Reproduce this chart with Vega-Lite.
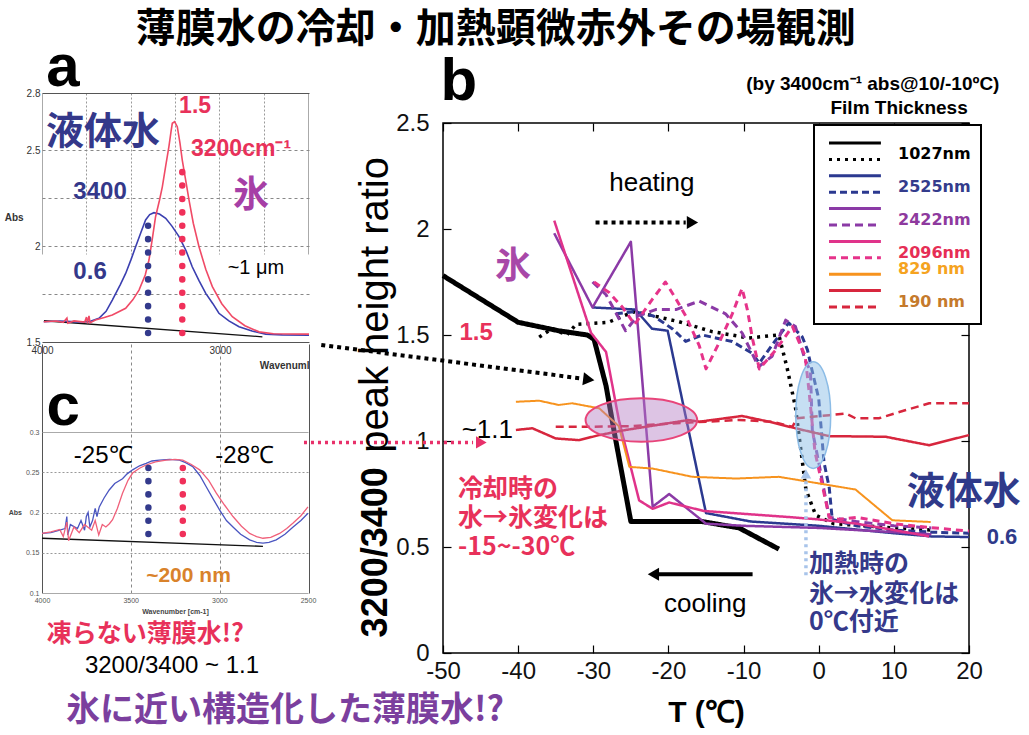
{
  "$schema": "https://vega.github.io/schema/vega-lite/v6.json",
  "background": "white",
  "padding": {"left": 4, "top": 9, "right": 0, "bottom": 0},
  "title": {"text": "薄膜水の冷却・加熱顕微赤外その場観測", "font": "Noto Sans CJK JP", "fontSize": 40, "fontWeight": "bold", "color": "#000", "anchor": "middle", "frame": "bounds", "offset": -12, "dx": -17},
  "bounds": "flush",
  "spacing": 134,
  "resolve": {"scale": {"color": "independent", "strokeDash": "independent"}},
  "datasets": {
    "a_liq": [
      {"wn": 3990, "abs": 1.606}, {"wn": 3900, "abs": 1.61}, {"wn": 3800, "abs": 1.605}, {"wn": 3736, "abs": 1.606}, {"wn": 3680, "abs": 1.624}, {"wn": 3640, "abs": 1.66}, {"wn": 3605, "abs": 1.719}, {"wn": 3560, "abs": 1.8}, {"wn": 3530, "abs": 1.858}, {"wn": 3500, "abs": 1.93}, {"wn": 3474, "abs": 1.997}, {"wn": 3445, "abs": 2.07}, {"wn": 3418, "abs": 2.137}, {"wn": 3395, "abs": 2.165}, {"wn": 3371, "abs": 2.175}, {"wn": 3340, "abs": 2.168}, {"wn": 3305, "abs": 2.146}, {"wn": 3270, "abs": 2.105}, {"wn": 3230, "abs": 2.05}, {"wn": 3190, "abs": 1.975}, {"wn": 3156, "abs": 1.893}, {"wn": 3118, "abs": 1.82}, {"wn": 3080, "abs": 1.754}, {"wn": 3040, "abs": 1.7}, {"wn": 3006, "abs": 1.65}, {"wn": 2950, "abs": 1.61}, {"wn": 2893, "abs": 1.58}, {"wn": 2820, "abs": 1.557}, {"wn": 2743, "abs": 1.541}, {"wn": 2650, "abs": 1.537}, {"wn": 2500, "abs": 1.536}
    ],
    "a_ice": [
      {"wn": 3990, "abs": 1.606}, {"wn": 3920, "abs": 1.61}, {"wn": 3880, "abs": 1.603}, {"wn": 3860, "abs": 1.625}, {"wn": 3855, "abs": 1.598}, {"wn": 3820, "abs": 1.61}, {"wn": 3760, "abs": 1.604}, {"wn": 3750, "abs": 1.63}, {"wn": 3745, "abs": 1.598}, {"wn": 3736, "abs": 1.636}, {"wn": 3730, "abs": 1.6}, {"wn": 3700, "abs": 1.615}, {"wn": 3650, "abs": 1.628}, {"wn": 3605, "abs": 1.641}, {"wn": 3530, "abs": 1.676}, {"wn": 3490, "abs": 1.72}, {"wn": 3455, "abs": 1.771}, {"wn": 3420, "abs": 1.85}, {"wn": 3399, "abs": 1.928}, {"wn": 3380, "abs": 2.04}, {"wn": 3362, "abs": 2.154}, {"wn": 3340, "abs": 2.24}, {"wn": 3324, "abs": 2.31}, {"wn": 3305, "abs": 2.42}, {"wn": 3287, "abs": 2.52}, {"wn": 3275, "abs": 2.6}, {"wn": 3268, "abs": 2.642}, {"wn": 3255, "abs": 2.65}, {"wn": 3240, "abs": 2.624}, {"wn": 3225, "abs": 2.54}, {"wn": 3212, "abs": 2.45}, {"wn": 3190, "abs": 2.33}, {"wn": 3174, "abs": 2.241}, {"wn": 3150, "abs": 2.12}, {"wn": 3118, "abs": 1.997}, {"wn": 3080, "abs": 1.88}, {"wn": 3043, "abs": 1.789}, {"wn": 2990, "abs": 1.7}, {"wn": 2931, "abs": 1.632}, {"wn": 2860, "abs": 1.585}, {"wn": 2781, "abs": 1.553}, {"wn": 2700, "abs": 1.543}, {"wn": 2500, "abs": 1.541}
    ],
    "a_base": [{"wn": 3989, "abs": 1.611}, {"wn": 2762, "abs": 1.527}],
    "c_m25": [
      {"wn": 4000, "abs": 0.174}, {"wn": 3950, "abs": 0.175}, {"wn": 3900, "abs": 0.178}, {"wn": 3870, "abs": 0.18}, {"wn": 3860, "abs": 0.195}, {"wn": 3855, "abs": 0.172}, {"wn": 3840, "abs": 0.185}, {"wn": 3800, "abs": 0.18}, {"wn": 3780, "abs": 0.19}, {"wn": 3760, "abs": 0.178}, {"wn": 3750, "abs": 0.195}, {"wn": 3740, "abs": 0.2}, {"wn": 3730, "abs": 0.182}, {"wn": 3715, "abs": 0.19}, {"wn": 3700, "abs": 0.205}, {"wn": 3690, "abs": 0.195}, {"wn": 3677, "abs": 0.207}, {"wn": 3650, "abs": 0.218}, {"wn": 3621, "abs": 0.228}, {"wn": 3590, "abs": 0.236}, {"wn": 3546, "abs": 0.242}, {"wn": 3520, "abs": 0.248}, {"wn": 3489, "abs": 0.253}, {"wn": 3450, "abs": 0.258}, {"wn": 3413, "abs": 0.261}, {"wn": 3380, "abs": 0.264}, {"wn": 3338, "abs": 0.265}, {"wn": 3280, "abs": 0.266}, {"wn": 3225, "abs": 0.265}, {"wn": 3190, "abs": 0.262}, {"wn": 3150, "abs": 0.257}, {"wn": 3110, "abs": 0.246}, {"wn": 3074, "abs": 0.232}, {"wn": 3035, "abs": 0.217}, {"wn": 2998, "abs": 0.203}, {"wn": 2960, "abs": 0.19}, {"wn": 2923, "abs": 0.182}, {"wn": 2880, "abs": 0.173}, {"wn": 2829, "abs": 0.166}, {"wn": 2790, "abs": 0.163}, {"wn": 2754, "abs": 0.162}, {"wn": 2720, "abs": 0.163}, {"wn": 2679, "abs": 0.166}, {"wn": 2630, "abs": 0.173}, {"wn": 2584, "abs": 0.182}, {"wn": 2540, "abs": 0.19}, {"wn": 2500, "abs": 0.199}
    ],
    "c_m28": [
      {"wn": 4000, "abs": 0.174}, {"wn": 3950, "abs": 0.176}, {"wn": 3900, "abs": 0.179}, {"wn": 3880, "abs": 0.17}, {"wn": 3860, "abs": 0.188}, {"wn": 3850, "abs": 0.165}, {"wn": 3820, "abs": 0.182}, {"wn": 3790, "abs": 0.175}, {"wn": 3760, "abs": 0.185}, {"wn": 3720, "abs": 0.178}, {"wn": 3700, "abs": 0.19}, {"wn": 3680, "abs": 0.172}, {"wn": 3660, "abs": 0.185}, {"wn": 3640, "abs": 0.182}, {"wn": 3620, "abs": 0.186}, {"wn": 3602, "abs": 0.191}, {"wn": 3575, "abs": 0.205}, {"wn": 3546, "abs": 0.224}, {"wn": 3515, "abs": 0.24}, {"wn": 3489, "abs": 0.249}, {"wn": 3450, "abs": 0.255}, {"wn": 3413, "abs": 0.259}, {"wn": 3360, "abs": 0.263}, {"wn": 3300, "abs": 0.265}, {"wn": 3250, "abs": 0.266}, {"wn": 3206, "abs": 0.265}, {"wn": 3160, "abs": 0.26}, {"wn": 3111, "abs": 0.253}, {"wn": 3060, "abs": 0.24}, {"wn": 3017, "abs": 0.224}, {"wn": 2970, "abs": 0.209}, {"wn": 2923, "abs": 0.195}, {"wn": 2875, "abs": 0.183}, {"wn": 2829, "abs": 0.174}, {"wn": 2790, "abs": 0.17}, {"wn": 2754, "abs": 0.168}, {"wn": 2710, "abs": 0.169}, {"wn": 2660, "abs": 0.174}, {"wn": 2620, "abs": 0.18}, {"wn": 2584, "abs": 0.187}, {"wn": 2540, "abs": 0.196}, {"wn": 2500, "abs": 0.207}
    ],
    "c_base": [{"wn": 4000, "abs": 0.168}, {"wn": 2754, "abs": 0.158}],
    "b_series": [
      {"s": "1027nm cooling", "T": -50, "r": 1.78}, {"s": "1027nm cooling", "T": -40, "r": 1.56}, {"s": "1027nm cooling", "T": -34.6, "r": 1.52}, {"s": "1027nm cooling", "T": -30.8, "r": 1.5}, {"s": "1027nm cooling", "T": -29.9, "r": 1.48}, {"s": "1027nm cooling", "T": -28.3, "r": 1.26}, {"s": "1027nm cooling", "T": -27.2, "r": 1.04}, {"s": "1027nm cooling", "T": -25, "r": 0.62}, {"s": "1027nm cooling", "T": -15.5, "r": 0.62}, {"s": "1027nm cooling", "T": -10.6, "r": 0.59}, {"s": "1027nm cooling", "T": -5.3, "r": 0.49},
      {"s": "1027nm heating", "T": -37.2, "r": 1.49}, {"s": "1027nm heating", "T": -35.5, "r": 1.53}, {"s": "1027nm heating", "T": -33.5, "r": 1.5}, {"s": "1027nm heating", "T": -32.3, "r": 1.55}, {"s": "1027nm heating", "T": -28, "r": 1.56}, {"s": "1027nm heating", "T": -24.6, "r": 1.61}, {"s": "1027nm heating", "T": -22.6, "r": 1.595}, {"s": "1027nm heating", "T": -18.6, "r": 1.563}, {"s": "1027nm heating", "T": -14.2, "r": 1.516}, {"s": "1027nm heating", "T": -9.3, "r": 1.486}, {"s": "1027nm heating", "T": -5.3, "r": 1.5}, {"s": "1027nm heating", "T": -4.2, "r": 1.344}, {"s": "1027nm heating", "T": -3.1, "r": 1.16}, {"s": "1027nm heating", "T": -1.7, "r": 0.77}, {"s": "1027nm heating", "T": -0.4, "r": 0.65}, {"s": "1027nm heating", "T": 2, "r": 0.61}, {"s": "1027nm heating", "T": 10, "r": 0.59}, {"s": "1027nm heating", "T": 15, "r": 0.58},
      {"s": "2525nm cooling", "T": -30.1, "r": 1.63}, {"s": "2525nm cooling", "T": -24.4, "r": 1.62}, {"s": "2525nm cooling", "T": -22.2, "r": 1.53}, {"s": "2525nm cooling", "T": -20.1, "r": 1.52}, {"s": "2525nm cooling", "T": -15, "r": 0.66}, {"s": "2525nm cooling", "T": -9, "r": 0.62}, {"s": "2525nm cooling", "T": 0, "r": 0.6}, {"s": "2525nm cooling", "T": 10, "r": 0.565}, {"s": "2525nm cooling", "T": 15, "r": 0.55}, {"s": "2525nm cooling", "T": 20, "r": 0.547},
      {"s": "2525nm heating", "T": -27, "r": 1.6}, {"s": "2525nm heating", "T": -24.6, "r": 1.61}, {"s": "2525nm heating", "T": -22, "r": 1.59}, {"s": "2525nm heating", "T": -19.5, "r": 1.53}, {"s": "2525nm heating", "T": -17.7, "r": 1.47}, {"s": "2525nm heating", "T": -15.5, "r": 1.5}, {"s": "2525nm heating", "T": -13.7, "r": 1.486}, {"s": "2525nm heating", "T": -11.5, "r": 1.469}, {"s": "2525nm heating", "T": -8.9, "r": 1.415}, {"s": "2525nm heating", "T": -7.9, "r": 1.368}, {"s": "2525nm heating", "T": -5.7, "r": 1.477}, {"s": "2525nm heating", "T": -4, "r": 1.557}, {"s": "2525nm heating", "T": -2.2, "r": 1.492}, {"s": "2525nm heating", "T": -1.5, "r": 1.43}, {"s": "2525nm heating", "T": -0.9, "r": 1.335}, {"s": "2525nm heating", "T": 0, "r": 1.2}, {"s": "2525nm heating", "T": 0.7, "r": 0.9}, {"s": "2525nm heating", "T": 1.4, "r": 0.78}, {"s": "2525nm heating", "T": 1.8, "r": 0.63}, {"s": "2525nm heating", "T": 5, "r": 0.6}, {"s": "2525nm heating", "T": 10, "r": 0.58}, {"s": "2525nm heating", "T": 15, "r": 0.57}, {"s": "2525nm heating", "T": 20, "r": 0.565},
      {"s": "2422nm cooling", "T": -35.2, "r": 1.98}, {"s": "2422nm cooling", "T": -30.1, "r": 1.63}, {"s": "2422nm cooling", "T": -25, "r": 1.94}, {"s": "2422nm cooling", "T": -22.1, "r": 0.69}, {"s": "2422nm cooling", "T": -19.9, "r": 0.75}, {"s": "2422nm cooling", "T": -15, "r": 0.61}, {"s": "2422nm cooling", "T": -10, "r": 0.6}, {"s": "2422nm cooling", "T": 0, "r": 0.59}, {"s": "2422nm cooling", "T": 10, "r": 0.57}, {"s": "2422nm cooling", "T": 15, "r": 0.56},
      {"s": "2422nm heating", "T": -30.1, "r": 1.75}, {"s": "2422nm heating", "T": -28.3, "r": 1.69}, {"s": "2422nm heating", "T": -25.7, "r": 1.52}, {"s": "2422nm heating", "T": -24.1, "r": 1.59}, {"s": "2422nm heating", "T": -21.7, "r": 1.62}, {"s": "2422nm heating", "T": -19, "r": 1.62}, {"s": "2422nm heating", "T": -15.9, "r": 1.66}, {"s": "2422nm heating", "T": -12.4, "r": 1.6}, {"s": "2422nm heating", "T": -10.2, "r": 1.51}, {"s": "2422nm heating", "T": -8, "r": 1.35}, {"s": "2422nm heating", "T": -6.2, "r": 1.4}, {"s": "2422nm heating", "T": -4.4, "r": 1.57}, {"s": "2422nm heating", "T": -3.1, "r": 1.54}, {"s": "2422nm heating", "T": -1.8, "r": 1.38}, {"s": "2422nm heating", "T": -1.1, "r": 1.33}, {"s": "2422nm heating", "T": -0.85, "r": 1.05}, {"s": "2422nm heating", "T": 0, "r": 0.9}, {"s": "2422nm heating", "T": 1.4, "r": 0.64}, {"s": "2422nm heating", "T": 5, "r": 0.62}, {"s": "2422nm heating", "T": 10, "r": 0.6}, {"s": "2422nm heating", "T": 15, "r": 0.59},
      {"s": "2096nm cooling", "T": -35.2, "r": 2.04}, {"s": "2096nm cooling", "T": -30.3, "r": 1.51}, {"s": "2096nm cooling", "T": -28.3, "r": 1.42}, {"s": "2096nm cooling", "T": -26.6, "r": 1.1}, {"s": "2096nm cooling", "T": -23.9, "r": 0.72}, {"s": "2096nm cooling", "T": -22.1, "r": 0.68}, {"s": "2096nm cooling", "T": -19.9, "r": 0.71}, {"s": "2096nm cooling", "T": -15.3, "r": 0.67}, {"s": "2096nm cooling", "T": -3.5, "r": 0.64}, {"s": "2096nm cooling", "T": 0, "r": 0.63}, {"s": "2096nm cooling", "T": 5, "r": 0.61}, {"s": "2096nm cooling", "T": 10, "r": 0.58}, {"s": "2096nm cooling", "T": 14.7, "r": 0.55},
      {"s": "2096nm heating", "T": -29.9, "r": 1.75}, {"s": "2096nm heating", "T": -27.9, "r": 1.7}, {"s": "2096nm heating", "T": -26.1, "r": 1.63}, {"s": "2096nm heating", "T": -24.5, "r": 1.55}, {"s": "2096nm heating", "T": -22.1, "r": 1.67}, {"s": "2096nm heating", "T": -20.4, "r": 1.75}, {"s": "2096nm heating", "T": -19, "r": 1.67}, {"s": "2096nm heating", "T": -17.7, "r": 1.59}, {"s": "2096nm heating", "T": -15.9, "r": 1.45}, {"s": "2096nm heating", "T": -15, "r": 1.34}, {"s": "2096nm heating", "T": -13.3, "r": 1.46}, {"s": "2096nm heating", "T": -11.5, "r": 1.6}, {"s": "2096nm heating", "T": -10.2, "r": 1.72}, {"s": "2096nm heating", "T": -9.5, "r": 1.62}, {"s": "2096nm heating", "T": -8.8, "r": 1.48}, {"s": "2096nm heating", "T": -7.9, "r": 1.34}, {"s": "2096nm heating", "T": -5.7, "r": 1.43}, {"s": "2096nm heating", "T": -3.5, "r": 1.54}, {"s": "2096nm heating", "T": -1.8, "r": 1.4}, {"s": "2096nm heating", "T": -1.3, "r": 1.24}, {"s": "2096nm heating", "T": -0.5, "r": 0.95}, {"s": "2096nm heating", "T": 1.4, "r": 0.64}, {"s": "2096nm heating", "T": 2.7, "r": 0.63}, {"s": "2096nm heating", "T": 5, "r": 0.64}, {"s": "2096nm heating", "T": 10, "r": 0.61}, {"s": "2096nm heating", "T": 13.8, "r": 0.595}, {"s": "2096nm heating", "T": 20, "r": 0.575},
      {"s": "829 nm cooling", "T": -40.3, "r": 1.185}, {"s": "829 nm cooling", "T": -37.2, "r": 1.19}, {"s": "829 nm cooling", "T": -34.6, "r": 1.17}, {"s": "829 nm cooling", "T": -32.8, "r": 1.178}, {"s": "829 nm cooling", "T": -29.2, "r": 1.154}, {"s": "829 nm cooling", "T": -26.6, "r": 1.07}, {"s": "829 nm cooling", "T": -25.2, "r": 0.878}, {"s": "829 nm cooling", "T": -22.1, "r": 0.87}, {"s": "829 nm cooling", "T": -16.8, "r": 0.831}, {"s": "829 nm cooling", "T": -11, "r": 0.823}, {"s": "829 nm cooling", "T": -5.3, "r": 0.831}, {"s": "829 nm cooling", "T": 0, "r": 0.8}, {"s": "829 nm cooling", "T": 4.9, "r": 0.771}, {"s": "829 nm cooling", "T": 9.8, "r": 0.626}, {"s": "829 nm cooling", "T": 14.9, "r": 0.618},
      {"s": "190 nm cooling", "T": -40.3, "r": 1.052}, {"s": "190 nm cooling", "T": -38.1, "r": 1.06}, {"s": "190 nm cooling", "T": -35, "r": 1.012}, {"s": "190 nm cooling", "T": -31.9, "r": 1.004}, {"s": "190 nm cooling", "T": -29.2, "r": 1.028}, {"s": "190 nm cooling", "T": -25.7, "r": 1.052}, {"s": "190 nm cooling", "T": -17.3, "r": 1.099}, {"s": "190 nm cooling", "T": -15.9, "r": 1.091}, {"s": "190 nm cooling", "T": -10.2, "r": 1.118}, {"s": "190 nm cooling", "T": -6.6, "r": 1.091}, {"s": "190 nm cooling", "T": -3.1, "r": 1.06}, {"s": "190 nm cooling", "T": 1.4, "r": 1.023}, {"s": "190 nm cooling", "T": 8.9, "r": 1.02}, {"s": "190 nm cooling", "T": 14.7, "r": 0.98}, {"s": "190 nm cooling", "T": 20, "r": 1.028},
      {"s": "190 nm heating", "T": -35, "r": 1.067}, {"s": "190 nm heating", "T": -31, "r": 1.067}, {"s": "190 nm heating", "T": -25, "r": 1.07}, {"s": "190 nm heating", "T": -19.5, "r": 1.083}, {"s": "190 nm heating", "T": -15, "r": 1.091}, {"s": "190 nm heating", "T": -10.6, "r": 1.099}, {"s": "190 nm heating", "T": -6.2, "r": 1.091}, {"s": "190 nm heating", "T": -3.5, "r": 1.067}, {"s": "190 nm heating", "T": -2.9, "r": 1.107}, {"s": "190 nm heating", "T": 1.4, "r": 1.122}, {"s": "190 nm heating", "T": 3.6, "r": 1.13}, {"s": "190 nm heating", "T": 4.9, "r": 1.107}, {"s": "190 nm heating", "T": 8, "r": 1.107}, {"s": "190 nm heating", "T": 11.6, "r": 1.146}, {"s": "190 nm heating", "T": 14.7, "r": 1.178}, {"s": "190 nm heating", "T": 20, "r": 1.178}
    ]
  },
  "hconcat": [
    {
      "width": 267, "height": 500,
      "view": {"stroke": null},
      "resolve": {"scale": {"x": "independent", "y": "independent"}, "axis": {"x": "independent", "y": "independent"}},
      "layer": [
        {
          "encoding": {
            "x": {"field": "wn", "type": "quantitative", "scale": {"domain": [4000, 2500], "range": [0, 267], "nice": false, "zero": false},
                  "axis": {"orient": "bottom", "offset": -251, "values": [4000, 3500, 3000, 2500], "labelExpr": "datum.value == 4000 || datum.value == 3000 ? '' + datum.value : ''", "grid": true,
                           "gridDash": {"condition": {"test": "datum.value == 4000 || datum.value == 2500", "value": []}, "value": [3, 3]},
                           "gridColor": {"condition": {"test": "datum.value == 4000 || datum.value == 2500", "value": "#555"}, "value": "#888"},
                           "ticks": false, "domain": false, "labelFontSize": 10, "labelColor": "#333", "labelPadding": 3, "labelFlush": false, "title": "Wavenuml", "titleAnchor": "end", "titleFontSize": 10, "titleFontWeight": "bold", "titleColor": "#333", "titlePadding": 5}},
            "y": {"field": "abs", "type": "quantitative", "scale": {"domain": [1.5, 2.8], "range": [249, 0], "nice": false, "zero": false},
                  "axis": {"orient": "left", "values": [1.5, 1.75, 2, 2.25, 2.5, 2.8], "labelExpr": "datum.value == 1.75 || datum.value == 2.25 ? '' : '' + datum.value", "grid": true,
                           "gridDash": {"condition": {"test": "datum.value == 1.5 || datum.value == 2.8", "value": []}, "value": [3, 3]},
                           "gridColor": {"condition": {"test": "datum.value == 1.5 || datum.value == 2.8", "value": "#555"}, "value": "#888"},
                           "ticks": false, "domain": false, "labelFontSize": 10, "labelColor": "#333", "labelPadding": 2, "labelFlush": false, "title": "Abs", "titleAngle": 0, "titleAlign": "right", "titleBaseline": "middle", "titleFontSize": 10, "titleFontWeight": "bold", "titleColor": "#333", "titlePadding": 3}}
          },
          "layer": [
            {"data": {"name": "a_base"}, "mark": {"type": "line", "color": "#111", "strokeWidth": 1.3}},
            {"data": {"name": "a_liq"}, "mark": {"type": "line", "color": "#3b3fb0", "strokeWidth": 1.6}},
            {"data": {"name": "a_ice"}, "mark": {"type": "line", "color": "#f04a66", "strokeWidth": 1.6}},
            {"data": {"values": [{"wn": 3404, "abs": 1.547, "abs2": 2.17}]}, "mark": {"type": "rule", "color": "#333a8c", "strokeWidth": 6.5, "strokeDash": [0.1, 13.3], "strokeCap": "round"}, "encoding": {"y2": {"field": "abs2"}}},
            {"data": {"values": [{"wn": 3212, "abs": 1.547, "abs2": 2.45}]}, "mark": {"type": "rule", "color": "#f0305a", "strokeWidth": 6.5, "strokeDash": [0.1, 13.3], "strokeCap": "round"}, "encoding": {"y2": {"field": "abs2"}}},
            {"data": {"values": [{"wn": 3882, "abs": 2.837, "t": "a"}]}, "mark": {"type": "text", "font": "Liberation Sans", "fontSize": 60, "fontWeight": "bold", "color": "#000", "baseline": "alphabetic"}, "encoding": {"text": {"field": "t"}}},
            {"data": {"values": [{"wn": 3140, "abs": 2.732, "t": "1.5"}, {"wn": 2882, "abs": 2.508, "t": "3200cm⁻¹"}]}, "mark": {"type": "text", "font": "Liberation Sans", "fontSize": 23, "fontWeight": "bold", "color": "#e8315a"}, "encoding": {"text": {"field": "t"}}},
            {"data": {"values": [{"wn": 3674, "abs": 2.283, "t": "3400"}, {"wn": 3730, "abs": 1.865, "t": "0.6"}]}, "mark": {"type": "text", "font": "Liberation Sans", "fontSize": 24, "fontWeight": "bold", "color": "#34388a"}, "encoding": {"text": {"field": "t"}}},
            {"data": {"values": [{"wn": 3657, "abs": 2.591, "t": "液体水"}]}, "mark": {"type": "text", "font": "Noto Sans CJK JP", "fontSize": 38, "fontWeight": "bold", "color": "#34388a"}, "encoding": {"text": {"field": "t"}}},
            {"data": {"values": [{"wn": 2826, "abs": 2.262, "t": "氷"}]}, "mark": {"type": "text", "font": "Noto Sans CJK JP", "fontSize": 36, "fontWeight": "bold", "color": "#a63fa6"}, "encoding": {"text": {"field": "t"}}},
            {"data": {"values": [{"wn": 2798, "abs": 1.886, "t": "~1 μm"}]}, "mark": {"type": "text", "font": "Liberation Sans", "fontSize": 20, "color": "#000"}, "encoding": {"text": {"field": "t"}}}
          ]
        },
        {
          "encoding": {
            "x": {"field": "wn", "type": "quantitative", "scale": {"domain": [4000, 2500], "range": [0, 266], "nice": false, "zero": false},
                  "axis": {"orient": "bottom", "values": [4000, 3750, 3500, 3250, 3000, 2750, 2500], "labelExpr": "datum.value == 4000 || datum.value == 3500 || datum.value == 3000 || datum.value == 2500 ? '' + datum.value : ''", "grid": true,
                           "gridDash": {"condition": {"test": "datum.value == 4000 || datum.value == 2500", "value": []}, "value": [2, 2]},
                           "gridColor": {"condition": {"test": "datum.value == 4000 || datum.value == 2500", "value": "#aaa"}, "value": "#999"},
                           "ticks": false, "domain": false, "labelFontSize": 7, "labelColor": "#555", "labelPadding": 3, "labelFlush": false, "title": "Wavenumber [cm-1]", "titleFontSize": 7, "titleFontWeight": "bold", "titleColor": "#444", "titlePadding": 4}},
            "y": {"field": "abs", "type": "quantitative", "scale": {"domain": [0.1, 0.3], "range": [500, 339], "nice": false, "zero": false},
                  "axis": {"orient": "left", "values": [0.1, 0.15, 0.2, 0.25, 0.3], "labelExpr": "'' + datum.value", "grid": true,
                           "gridDash": {"condition": {"test": "datum.value == 0.1 || datum.value == 0.3", "value": []}, "value": [2, 2]},
                           "gridColor": {"condition": {"test": "datum.value == 0.1 || datum.value == 0.3", "value": "#aaa"}, "value": "#999"},
                           "ticks": false, "domain": false, "labelFontSize": 7, "labelColor": "#555", "labelPadding": 3, "labelFlush": false, "title": "Abs", "titleAngle": 0, "titleAlign": "right", "titleBaseline": "middle", "titleFontSize": 7, "titleFontWeight": "bold", "titleColor": "#444", "titlePadding": 4}}
          },
          "layer": [
            {"data": {"name": "c_base"}, "mark": {"type": "line", "color": "#111", "strokeWidth": 1.3}},
            {"data": {"name": "c_m25"}, "mark": {"type": "line", "color": "#4a55c0", "strokeWidth": 1.3}},
            {"data": {"name": "c_m28"}, "mark": {"type": "line", "color": "#f0607a", "strokeWidth": 1.3}},
            {"data": {"values": [{"wn": 3400, "abs": 0.1733, "abs2": 0.256}]}, "mark": {"type": "rule", "color": "#333a8c", "strokeWidth": 6.5, "strokeDash": [0.1, 13.1], "strokeCap": "round"}, "encoding": {"y2": {"field": "abs2"}}},
            {"data": {"values": [{"wn": 3206, "abs": 0.1733, "abs2": 0.256}]}, "mark": {"type": "rule", "color": "#f0305a", "strokeWidth": 6.5, "strokeDash": [0.1, 13.1], "strokeCap": "round"}, "encoding": {"y2": {"field": "abs2"}}},
            {"data": {"values": [{"wn": 3881, "abs": 0.3087, "t": "c"}]}, "mark": {"type": "text", "font": "Liberation Sans", "fontSize": 60, "fontWeight": "bold", "color": "#000", "baseline": "alphabetic"}, "encoding": {"text": {"field": "t"}}},
            {"data": {"values": [{"wn": 3655, "abs": 0.2702, "t": "-25℃"}, {"wn": 2857, "abs": 0.2702, "t": "-28℃"}]}, "mark": {"type": "text", "font": "Liberation Sans", "fontSize": 24, "color": "#000"}, "encoding": {"text": {"field": "t"}}},
            {"data": {"values": [{"wn": 3174, "abs": 0.1211, "t": "~200 nm"}]}, "mark": {"type": "text", "font": "Liberation Sans", "fontSize": 21, "fontWeight": "bold", "color": "#d9822b"}, "encoding": {"text": {"field": "t"}}},
            {"data": {"values": [{"wn": 3417, "abs": 0.0491, "t": "凍らない薄膜水!?"}]}, "mark": {"type": "text", "font": "Noto Sans CJK JP", "fontSize": 25, "fontWeight": "bold", "color": "#e8315a"}, "encoding": {"text": {"field": "t"}}},
            {"data": {"values": [{"wn": 3267, "abs": 0.0093, "t": "3200/3400 ~ 1.1"}]}, "mark": {"type": "text", "font": "Liberation Sans", "fontSize": 24, "color": "#000"}, "encoding": {"text": {"field": "t"}}},
            {"data": {"values": [{"wn": 2630, "abs": -0.047, "t": "氷に近い構造化した薄膜水!?"}]}, "mark": {"type": "text", "font": "Noto Sans CJK JP", "fontSize": 34, "fontWeight": "bold", "color": "#7b3f9e"}, "encoding": {"text": {"field": "t"}}}
          ]
        }
      ]
    },
    {
      "bounds": "flush",
      "spacing": 0,
      "resolve": {"scale": {"color": "independent", "strokeDash": "independent"}},
      "vconcat": [
        {
          "width": 526, "height": 30,
          "view": {"stroke": null},
          "encoding": {
            "x": {"field": "T", "type": "quantitative", "scale": {"domain": [-50, 20], "nice": false, "zero": false}, "axis": null},
            "y": {"field": "y", "type": "quantitative", "scale": {"domain": [0, 1], "nice": false, "zero": false}, "axis": null},
            "text": {"field": "t"}
          },
          "layer": [
            {"data": {"values": [{"T": -47.9, "y": 0.767, "t": "b"}]}, "mark": {"type": "text", "font": "Liberation Sans", "fontSize": 60, "fontWeight": "bold", "baseline": "alphabetic", "color": "#000"}},
            {"data": {"values": [{"T": 7.2, "y": 1.3, "t": "(by 3400cm⁻¹ abs@10/-10ºC)"}, {"T": 10.7, "y": 0.5, "t": "Film Thickness"}]}, "mark": {"type": "text", "font": "Liberation Sans", "fontSize": 19, "fontWeight": "bold", "color": "#000"}}
          ]
        },
        {
          "width": 526, "height": 530,
          "view": {"stroke": "#000", "strokeWidth": 1.5},
          "resolve": {"axis": {"x": "independent", "y": "independent"}},
          "encoding": {
            "x": {"field": "T", "type": "quantitative", "scale": {"domain": [-50, 20], "nice": false, "zero": false}, "axis": null},
            "y": {"field": "r", "type": "quantitative", "scale": {"domain": [0, 2.5], "nice": false, "zero": false}, "axis": null}
          },
          "layer": [
            {
              "data": {"name": "b_series"},
              "mark": {"type": "line", "strokeJoin": "round"},
              "encoding": {
                "x": {"field": "T", "type": "quantitative", "scale": {"domain": [-50, 20], "nice": false, "zero": false},
                      "axis": {"orient": "bottom", "values": [-50, -40, -30, -20, -10, 0, 10, 20], "labelExpr": "'' + datum.value", "labelFontSize": 24, "labelColor": "#111", "labelFont": "Liberation Sans", "tickSize": -8, "tickColor": "#000", "tickWidth": 1.2, "labelPadding": 14, "domain": false, "grid": false, "labelFlush": false, "title": "T (℃)", "titleFont": "Liberation Sans", "titleFontSize": 30, "titleFontWeight": "bold", "titleColor": "#000", "titlePadding": 14}},
                "y": {"field": "r", "type": "quantitative", "scale": {"domain": [0, 2.5], "nice": false, "zero": false},
                      "axis": {"orient": "left", "values": [0, 0.5, 1, 1.5, 2, 2.5], "labelExpr": "'' + datum.value", "labelFontSize": 24, "labelColor": "#111", "labelFont": "Liberation Sans", "tickSize": -8, "tickColor": "#000", "tickWidth": 1.2, "labelPadding": 22, "domain": false, "grid": false, "labelFlush": false, "title": null}},
                "color": {"field": "s", "type": "nominal",
                  "scale": {"domain": ["1027nm cooling", "1027nm heating", "2525nm cooling", "2525nm heating", "2422nm cooling", "2422nm heating", "2096nm cooling", "2096nm heating", "829 nm cooling", "190 nm cooling", "190 nm heating"],
                            "range": ["#000000", "#000000", "#2b3990", "#2b3990", "#8b3aa6", "#8b3aa6", "#e0338a", "#e6338a", "#f7931e", "#d7263d", "#d7263d"]},
                  "legend": {"orient": "none", "legendX": 371, "legendY": 2, "title": null, "symbolType": "M-1,0H16.3", "symbolSize": 36, "symbolStrokeWidth": 3,
                             "labelOffset": 58, "labelFont": "DejaVu Sans", "labelFontSize": 16, "labelFontWeight": "bold", "labelBaseline": "alphabetic",
                             "labelExpr": "datum.value == '1027nm heating' ? '1027nm' : datum.value == '2525nm heating' ? '2525nm' : datum.value == '2422nm heating' ? '2422nm' : datum.value == '2096nm heating' ? '2096nm' : datum.value == '829 nm cooling' ? '829 nm' : datum.value == '190 nm heating' ? '190 nm' : ' '",
                             "labelColor": {"expr": "datum.value == '1027nm heating' ? '#000000' : datum.value == '2525nm heating' ? '#343c8c' : datum.value == '2422nm heating' ? '#8e3a9e' : datum.value == '2096nm heating' ? '#e62e55' : datum.value == '829 nm cooling' ? '#f5a31f' : '#c57a2c'"},
                             "rowPadding": -2.6, "padding": 10, "strokeColor": "#000", "fillColor": "#fff"}},
                "strokeDash": {"field": "s", "type": "nominal",
                  "scale": {"domain": ["1027nm cooling", "1027nm heating", "2525nm cooling", "2525nm heating", "2422nm cooling", "2422nm heating", "2096nm cooling", "2096nm heating", "829 nm cooling", "190 nm cooling", "190 nm heating"],
                            "range": [[1, 0], [3, 5], [1, 0], [7, 4], [1, 0], [8, 5], [1, 0], [7, 5], [1, 0], [1, 0], [8, 5]]}},
                "strokeWidth": {"condition": [{"test": "datum.s === '1027nm cooling'", "value": 5}, {"test": "datum.s === '1027nm heating'", "value": 3.5}, {"test": "datum.s === '2525nm heating' || datum.s === '2422nm heating' || datum.s === '2096nm heating'", "value": 3}, {"test": "datum.s === '829 nm cooling'", "value": 2}], "value": 2.5}
              }
            },
            {"data": {"values": [{"T": -23.6, "r": 1.099}]}, "mark": {"type": "point", "shape": "M-1,0A1,0.389,0,1,0,1,0A1,0.389,0,1,0,-1,0Z", "size": 12455, "filled": true, "fill": "#b47cc4", "fillOpacity": 0.45, "stroke": "#e8457a", "strokeWidth": 2, "strokeOpacity": 1, "opacity": 1}},
            {"data": {"values": [{"T": -0.73, "r": 1.122}]}, "mark": {"type": "point", "shape": "M0,-1A0.328,1,0,1,0,0,1A0.328,1,0,1,0,0,-1Z", "size": 11364, "filled": true, "fill": "#8ec0e8", "fillOpacity": 0.5, "stroke": "#8cbce6", "strokeWidth": 1.5, "strokeOpacity": 1, "opacity": 1}},
            {"data": {"values": [{"T": -66.2, "r": 1.453, "T2": -31.6, "r2": 1.295}]}, "mark": {"type": "rule", "color": "#000", "strokeWidth": 4, "strokeDash": [4, 4]}, "encoding": {"x2": {"field": "T2"}, "y2": {"field": "r2"}}},
            {"data": {"values": [{"T": -29.7, "r": 2.031, "T2": -17.7}]}, "mark": {"type": "rule", "color": "#000", "strokeWidth": 4, "strokeDash": [4, 4]}, "encoding": {"x2": {"field": "T2"}}},
            {"data": {"values": [{"T": -8.8, "r": 0.371, "T2": -21.3}]}, "mark": {"type": "rule", "color": "#000", "strokeWidth": 4}, "encoding": {"x2": {"field": "T2"}}},
            {"data": {"values": [{"T": -68.5, "r": 0.993, "T2": -46.0}]}, "mark": {"type": "rule", "color": "#e8306a", "strokeWidth": 3.5, "strokeDash": [3, 4]}, "encoding": {"x2": {"field": "T2"}}},
            {"data": {"values": [{"T": -1.7, "r": 0.367, "r2": 0.83}]}, "mark": {"type": "rule", "color": "#a8c4ea", "strokeWidth": 3.5, "strokeDash": [3, 4]}, "encoding": {"y2": {"field": "r2"}}},
            {"data": {"values": [{"T": -30.6, "r": 1.29}]}, "mark": {"type": "point", "shape": "triangle-right", "size": 170, "filled": true, "color": "#000", "opacity": 1, "angle": 7}},
            {"data": {"values": [{"T": -16.8, "r": 2.031}]}, "mark": {"type": "point", "shape": "triangle-right", "size": 170, "filled": true, "color": "#000", "opacity": 1}},
            {"data": {"values": [{"T": -22.0, "r": 0.371}]}, "mark": {"type": "point", "shape": "triangle-left", "size": 170, "filled": true, "color": "#000", "opacity": 1}},
            {"data": {"values": [{"T": -44.9, "r": 0.993}]}, "mark": {"type": "point", "shape": "triangle-right", "size": 150, "filled": true, "color": "#e8306a", "opacity": 1}},
            {"data": {"values": [{"T": -1.7, "r": 0.845}]}, "mark": {"type": "point", "shape": "triangle-up", "size": 110, "filled": true, "color": "#a8c4ea", "opacity": 1}},
            {"data": {"values": [{"T": -22.2, "r": 2.219, "t": "heating"}, {"T": -15.1, "r": 0.229, "t": "cooling"}]}, "mark": {"type": "text", "font": "Liberation Sans", "fontSize": 26, "color": "#000"},
              "encoding": {"text": {"field": "t"},
                "x": {"field": "T", "type": "quantitative", "scale": {"domain": [-50, 20], "nice": false, "zero": false}, "axis": {"orient": "top", "values": [-50, -40, -30, -20, -10, 0, 10, 20], "labels": false, "tickSize": -8, "tickColor": "#000", "tickWidth": 1.2, "domain": false, "grid": false, "title": null}},
                "y": {"field": "r", "type": "quantitative", "scale": {"domain": [0, 2.5], "nice": false, "zero": false}, "axis": {"orient": "right", "values": [0, 0.5, 1, 1.5, 2, 2.5], "labels": false, "tickSize": -8, "tickColor": "#000", "tickWidth": 1.2, "domain": false, "grid": false, "title": null}}}},
            {"data": {"values": [{"T": -40.7, "r": 1.822, "t": "氷"}]}, "mark": {"type": "text", "font": "Noto Sans CJK JP", "fontSize": 36, "fontWeight": "bold", "color": "#a848a8"}, "encoding": {"text": {"field": "t"}}},
            {"data": {"values": [{"T": -45.6, "r": 1.51, "t": "1.5"}]}, "mark": {"type": "text", "font": "Liberation Sans", "fontSize": 24, "fontWeight": "bold", "color": "#e8315a"}, "encoding": {"text": {"field": "t"}}},
            {"data": {"values": [{"T": -44.1, "r": 1.052, "t": "~1.1"}]}, "mark": {"type": "text", "font": "Liberation Sans", "fontSize": 26, "color": "#000"}, "encoding": {"text": {"field": "t"}}},
            {"data": {"values": [{"T": -48.0, "r": 0.775, "t": "冷却時の"}, {"T": -48.0, "r": 0.635, "t": "水→氷変化は"}, {"T": -48.0, "r": 0.5, "t": "-15~-30℃"}]}, "mark": {"type": "text", "font": "Noto Sans CJK JP", "fontSize": 25, "fontWeight": "bold", "color": "#e8315a", "align": "left"}, "encoding": {"text": {"field": "t"}}},
            {"data": {"values": [{"T": -1.3, "r": 0.422, "t": "加熱時の"}, {"T": -1.3, "r": 0.28, "t": "氷→水変化は"}, {"T": -1.3, "r": 0.146, "t": "0℃付近"}]}, "mark": {"type": "text", "font": "Noto Sans CJK JP", "fontSize": 25, "fontWeight": "bold", "color": "#35398a", "align": "left"}, "encoding": {"text": {"field": "t"}}},
            {"data": {"values": [{"T": 19.3, "r": 0.754, "t": "液体水"}]}, "mark": {"type": "text", "font": "Noto Sans CJK JP", "fontSize": 38, "fontWeight": "bold", "color": "#2f3a8a"}, "encoding": {"text": {"field": "t"}}},
            {"data": {"values": [{"T": 24.4, "r": 0.546, "t": "0.6"}]}, "mark": {"type": "text", "font": "Liberation Sans", "fontSize": 22, "fontWeight": "bold", "color": "#2f3a8a"}, "encoding": {"text": {"field": "t"}}},
            {"data": {"values": [{"T": -58.9, "r": 0.475, "t": "3200/3400"}]}, "mark": {"type": "text", "font": "Liberation Sans", "fontSize": 36, "fontWeight": "bold", "color": "#000", "angle": 270}, "encoding": {"text": {"field": "t"}}},
            {"data": {"values": [{"T": -58.9, "r": 1.642, "t": "peak height ratio"}]}, "mark": {"type": "text", "font": "Liberation Sans", "fontSize": 40, "color": "#000", "angle": 270}, "encoding": {"text": {"field": "t"}}}
          ]
        }
      ]
    }
  ],
  "config": {
    "font": "Liberation Sans",
    "view": {"stroke": null},
    "legend": {"strokeWidth": 2},
    "title": {"font": "Liberation Sans"}
  }
}
